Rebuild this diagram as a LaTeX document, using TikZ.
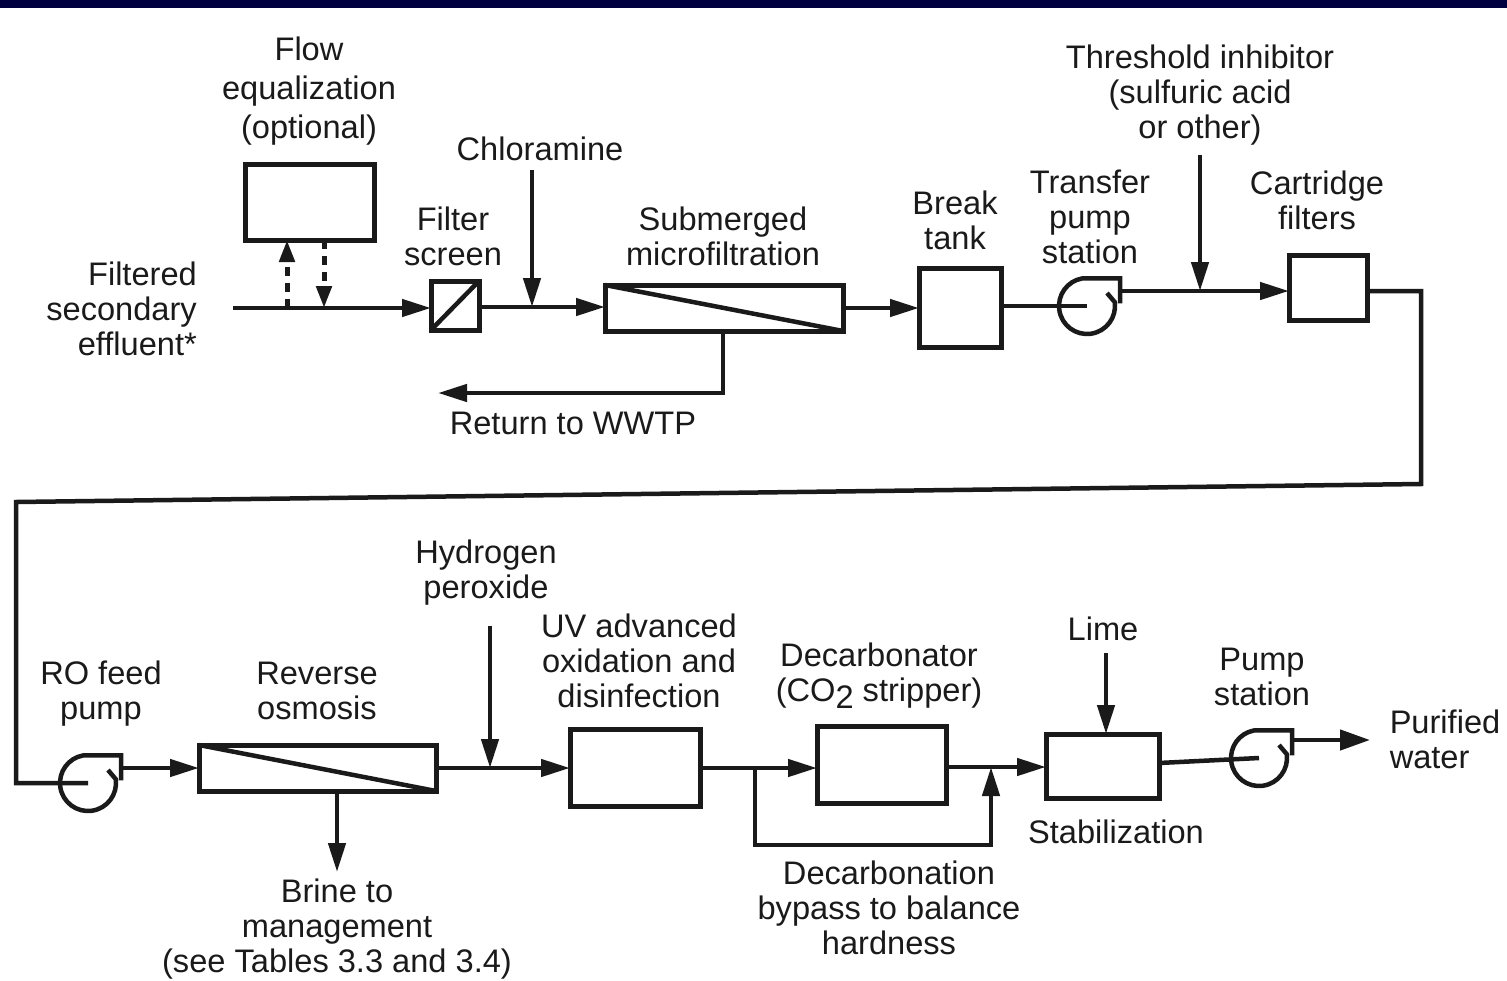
\documentclass[tikz,border=0pt]{standalone}
\usepackage{fontspec}
\setmainfont{Liberation Sans}
\usetikzlibrary{arrows.meta,calc}
\definecolor{band}{HTML}{000040}
\definecolor{ink}{HTML}{1A1A1A}
\tikzset{
  box/.style={draw=ink,line width=5pt,fill=white,rectangle,inner sep=0pt,outer sep=0pt},
  pipe/.style={draw=ink,line width=4.5pt},
  flow/.style={pipe,-{Triangle[length=29pt,width=17pt]}},
  bigflow/.style={pipe,-{Triangle[length=30pt,width=20pt]}},
  dflow/.style={draw=ink,line width=5pt,dash pattern=on 9pt off 7pt,-{Triangle[length=22pt,width=15pt]}},
  lbl/.style={text=ink,align=center,inner sep=0pt,font=\fontsize{32.6}{35}\selectfont},
  pumpc/.style={circle,inner sep=0pt,outer sep=0pt,minimum size=56pt}
}
\newcommand{\volute}[1]{%
  \draw[pipe,line join=miter] ($(#1.center)+(20,-13)$) -- ($(#1.center)+(8:28pt)$)
    arc[start angle=8,end angle=-260,radius=28pt] -- ++(38,0) -- ++(0,25);}
\begin{document}
\begin{tikzpicture}[x=1pt,y=-1pt]
\useasboundingbox (0,0) rectangle (1507,980);
\fill[white] (0,0) rectangle (1507,980);
\fill[band] (0,0) rectangle (1507,8);
% units
\node[box,minimum width=129pt,minimum height=76pt] (eq) at (309.5,202) {};
\node[box,minimum width=48pt,minimum height=49pt] (scr) at (455,305.5) {};
\node[box,minimum width=238pt,minimum height=46pt] (mf) at (724,308) {};
\node[box,minimum width=82pt,minimum height=79pt] (brk) at (960,307.5) {};
\node[box,minimum width=78pt,minimum height=65pt] (cart) at (1328,287.5) {};
\node[box,minimum width=237pt,minimum height=46pt] (ro) at (317.5,768) {};
\node[box,minimum width=130pt,minimum height=77pt] (uv) at (635,767.5) {};
\node[box,minimum width=129pt,minimum height=77pt] (dec) at (881.5,764.5) {};
\node[box,minimum width=113pt,minimum height=64pt] (stab) at (1102.5,766) {};
\node[pumpc] (p1) at (1087,306) {};
\node[pumpc] (p2) at (88,783) {};
\node[pumpc] (p3) at (1259,758) {};
% free ends and junctions
\coordinate (start) at (233,308);
\coordinate (equp) at (287,308);
\coordinate (eqdn) at (324,308);
\coordinate (chlA) at (532,170);
\coordinate (chlB) at (532,307);
\coordinate (mfdn) at (723,393);
\coordinate (ret) at (438,393);
\coordinate (p1out) at (1120,291);
\coordinate (thrA) at (1200,155);
\coordinate (thrB) at (1200,291);
\coordinate (c1) at (1421,291);
\coordinate (c2) at (1421,484);
\coordinate (c3) at (16,502);
\coordinate (c4) at (16,783);
\coordinate (p2out) at (123,768);
\coordinate (brine) at (337,872);
\coordinate (hA) at (490,626);
\coordinate (hB) at (490,768);
\coordinate (bpA) at (755,768);
\coordinate (bpB) at (755,845);
\coordinate (bpC) at (991,845);
\coordinate (bpD) at (991,767);
\coordinate (limeA) at (1106,653);
\coordinate (p3out) at (1294,740);
\coordinate (pure) at (1370,740);
% volutes
\volute{p1}
\volute{p2}
\volute{p3}
% connectors
\draw[flow] (start) -- (scr.west |- start);
\draw[dflow] (equp) -- (eq.south -| equp);
\draw[dflow] (eq.south -| eqdn) -- (eqdn);
\draw[pipe] (scr.south west) -- (scr.north east);
\draw[flow] (scr.east |- chlB) -- (mf.west |- chlB);
\draw[flow] (chlA) -- (chlB);
\draw[pipe] (mf.north west) -- (mf.south east);
\draw[flow] (mf.south -| mfdn) -- (mfdn) -- (ret);
\draw[flow] (mf.east) -- (brk.west |- mf.east);
\draw[pipe] (brk.east |- p1) -- (p1.center);
\draw[flow] (p1out) -- (cart.west |- p1out);
\draw[flow] (thrA) -- (thrB);
\draw[pipe,line join=miter] (cart.east |- c1) -- (c1) -- (c2) -- (c3) -- (c4) -- (p2.center);
\draw[flow] (p2out) -- (ro.west);
\draw[pipe] (ro.north west) -- (ro.south east);
\draw[flow] (ro.south -| brine) -- (brine);
\draw[flow] (ro.east) -- (uv.west |- ro.east);
\draw[flow] (hA) -- (hB);
\draw[flow] (uv.east |- bpA) -- (dec.west |- bpA);
\draw[flow,line join=miter] (bpA) -- (bpB) -- (bpC) -- (bpD);
\draw[flow] (dec.east |- bpD) -- (stab.west |- bpD);
\draw[flow] (limeA) -- (stab.north -| limeA);
\draw[pipe] (stab.east |- 0,763) -- (p3.center);
\draw[bigflow] (p3out) -- (pure);
% labels
\node[lbl] (tEq) at (309,91) {Flow\\[4pt]equalization\\[4pt](optional)};
\node[lbl,align=right,anchor=east] (tIn) at (197,309) {Filtered\\secondary\\effluent*};
\node[lbl] (tScr) at (453,236) {Filter\\screen};
\node[lbl] (tChl) at (540,149) {Chloramine};
\node[lbl] (tMf) at (723,236) {Submerged\\microfiltration};
\node[lbl] (tRet) at (573,423) {Return to WWTP};
\node[lbl] (tBrk) at (955,220) {Break\\tank};
\node[lbl] (tTr) at (1090,217) {Transfer\\pump\\station};
\node[lbl] (tThr) at (1200,95) {Threshold inhibitor\\(sulfuric acid\\or other)};
\node[lbl] (tCart) at (1317,200) {Cartridge\\filters};
\node[lbl] (tRoP) at (101,694) {RO feed\\pump};
\node[lbl] (tRo) at (317,691) {Reverse\\osmosis};
\node[lbl] (tBr) at (337,929) {Brine to\\management\\(see Tables 3.3 and 3.4)};
\node[lbl] (tH) at (486,573) {Hydrogen\\peroxide};
\node[lbl] (tUv) at (639,661) {UV advanced\\oxidation and\\disinfection};
\node[lbl] (tDec) at (879,676) {Decarbonator\\(CO\raisebox{-0.22em}{2} stripper)};
\node[lbl] (tBp) at (889,908) {Decarbonation\\bypass to balance\\hardness};
\node[lbl] (tLime) at (1103,629) {Lime};
\node[lbl] (tSt) at (1116,832) {Stabilization};
\node[lbl] (tPs) at (1262,677) {Pump\\station};
\node[lbl,align=left] (tPu) at (1445,739) {Purified\\water};
\end{tikzpicture}
\end{document}
